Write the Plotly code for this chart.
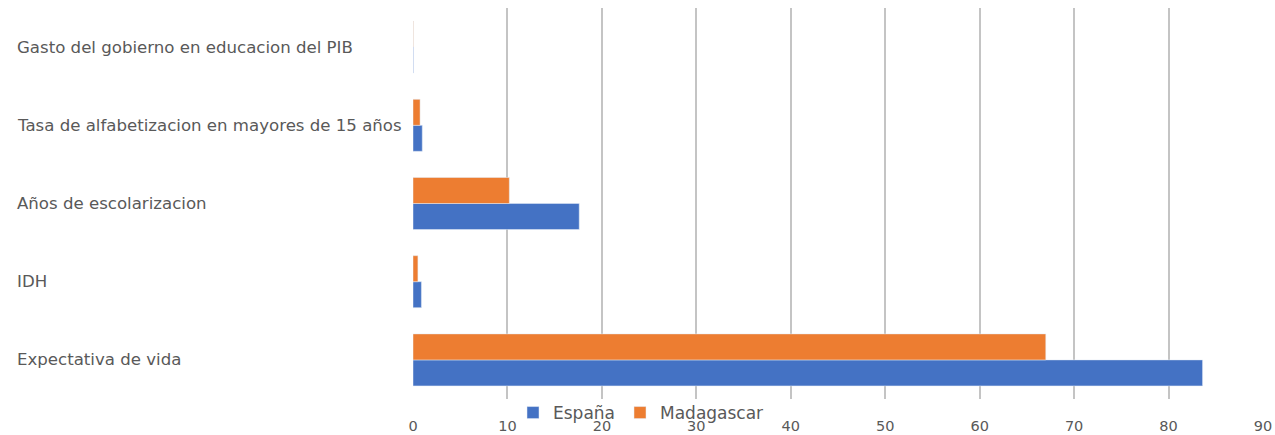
import plotly.graph_objects as go

categories = ["Expectativa de vida", "IDH", "Años de escolarizacion",
              "Tasa de alfabetizacion en mayores de 15 años",
              "Gasto del gobierno en educacion del PIB"]
espana = [83.6, 0.89, 17.6, 0.98, 0.04]
madagascar = [67.0, 0.52, 10.2, 0.75, 0.03]
xticks = [0, 10, 20, 30, 40, 50, 60, 70, 80, 90]

BLUE = "#4472C4"
ORANGE = "#ED7D31"
TXT = "#595959"
FONT = "DejaVu Sans"

W, H = 1275, 435
PL, PR = 413, 1263  # plot area left/right in pixels
PT, PB = 8, 399     # plot area top/bottom in pixels


def px(x):
    return (x - PL) / (PR - PL)


def py(y):
    return (PB - y) / (PB - PT)


fig = go.Figure()
fig.add_trace(go.Bar(y=categories, x=espana, orientation="h", name="España",
                     marker=dict(color=BLUE)))
fig.add_trace(go.Bar(y=categories, x=madagascar, orientation="h", name="Madagascar",
                     marker=dict(color=ORANGE)))

for c in categories:
    fig.add_annotation(x=px(15), xref="paper", y=c, yref="y", text=c,
                       showarrow=False, xanchor="left", yanchor="middle",
                       font=dict(family=FONT, size=16.6, color=TXT))

fig.update_layout(
    width=W, height=H,
    margin=dict(l=PL, r=W - PR, t=PT, b=H - PB, autoexpand=False),
    paper_bgcolor="white", plot_bgcolor="white",
    barmode="group", bargap=0.335, bargroupgap=0,
    font=dict(family=FONT, size=14, color=TXT),
    showlegend=True,
    legend=dict(orientation="h", x=px(641), xanchor="center",
                y=py(413), yanchor="middle",
                bgcolor="rgba(0,0,0,0)", font=dict(family=FONT, size=17, color=TXT),
                itemwidth=30, traceorder="normal"),
    xaxis=dict(range=[0, 90], tickvals=xticks, showgrid=True, gridcolor="#c4c4c4",
               gridwidth=2, zeroline=False, ticks="", showline=False, automargin=False,
               ticklabelstandoff=16,
               tickfont=dict(family=FONT, size=14.5, color=TXT)),
    yaxis=dict(showticklabels=False, showgrid=False, zeroline=False, showline=False,
               automargin=False),
)

fig.write_html("out.html", config={"displayModeBar": False},
               post_script="document.body.style.margin='0';")
